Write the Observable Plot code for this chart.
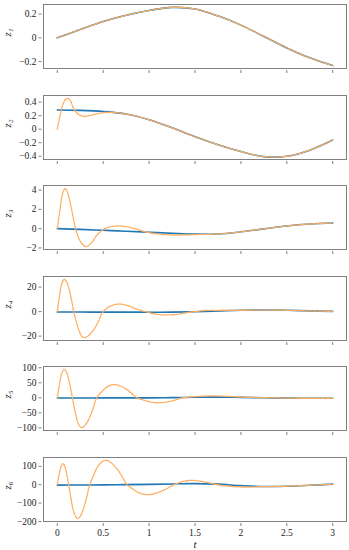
<!DOCTYPE html>
<html><head><meta charset="utf-8">
<script src="https://cdn.jsdelivr.net/npm/d3@7"></script>
<script src="https://cdn.jsdelivr.net/npm/@observablehq/plot@0.6"></script>
<style>
body{margin:0;background:#fff;}
#chart svg{display:block;}
#chart svg text{font-family:'Liberation Serif','DejaVu Serif',serif;}
</style></head><body><div id="chart"></div>
<script>
// time grid for the true states (blue)
const tTrue = [0, 0.25, 0.5, 0.75, 1.0, 1.25, 1.5, 1.75, 2.0, 2.25, 2.5, 2.75, 3.0];
const z1True = [0, 0.07, 0.137, 0.19, 0.23, 0.256, 0.243, 0.185, 0.107, 0.012, -0.085, -0.168, -0.233];
const z2True = [0.283, 0.278, 0.262, 0.225, 0.14, 0.02, -0.11, -0.23, -0.33, -0.405, -0.4, -0.31, -0.16];
const z3True = [0, -0.08, -0.17, -0.27, -0.37, -0.48, -0.57, -0.56, -0.33, -0.02, 0.28, 0.48, 0.58];
const z4True = [-0.3, -0.35, -0.4, -0.42, -0.45, -0.42, -0.1, 0.5, 1.1, 1.3, 1.1, 0.6, 0.2];
const z5True = [-0.5, -0.4, -0.3, -0.2, -0.1, 0.5, 1.8, 2.3, 1.5, 0, -1.0, -1.5, -1.3];
const z6True = [-2, -1.5, -1, 0.5, 2, 4, 6, 3, -5, -10, -8, -3, 3];

// observer estimates (orange, dashed)
const t1Obs = [0, 0.25, 0.5, 0.75, 1.0, 1.25, 1.5, 1.75, 2.0, 2.25, 2.5, 2.75, 3.0];
const z1Obs = [0, 0.07, 0.137, 0.19, 0.23, 0.256, 0.243, 0.185, 0.107, 0.012, -0.085, -0.168, -0.233];
const t2Obs = [0, 0.03, 0.06, 0.09, 0.115, 0.14, 0.17, 0.2, 0.24, 0.29, 0.35, 0.42, 0.5, 0.6, 0.75, 1.0, 1.25, 1.5, 1.75, 2.0, 2.25, 2.5, 2.75, 3.0];
const z2Obs = [0, 0.2, 0.36, 0.44, 0.455, 0.43, 0.33, 0.26, 0.21, 0.19, 0.2, 0.225, 0.245, 0.248, 0.225, 0.14, 0.02, -0.11, -0.23, -0.33, -0.405, -0.4, -0.31, -0.16];
const t3Obs = [0, 0.03, 0.06, 0.087, 0.12, 0.16, 0.2, 0.25, 0.31, 0.37, 0.43, 0.5, 0.58, 0.68, 0.78, 0.88, 0.97, 1.1, 1.25, 1.4, 1.55, 1.75, 2.0, 2.25, 2.5, 2.75, 3.0];
const z3Obs = [0, 2.0, 3.7, 4.17, 3.5, 1.8, 0.0, -1.3, -1.86, -1.5, -0.7, -0.1, 0.2, 0.28, 0.15, -0.1, -0.35, -0.55, -0.65, -0.65, -0.6, -0.56, -0.33, -0.02, 0.28, 0.48, 0.58];
const t4Obs = [0, 0.025, 0.05, 0.075, 0.1, 0.13, 0.155, 0.18, 0.22, 0.26, 0.29, 0.33, 0.4, 0.45, 0.5, 0.58, 0.67, 0.76, 0.86, 0.96, 1.07, 1.18, 1.3, 1.47, 1.6, 1.75, 2.0, 2.25, 2.5, 2.75, 3.0];
const z4Obs = [0, 13, 23, 26.3, 24.5, 18, 9.5, 0, -11.5, -19.3, -21.2, -20.2, -14.4, -7.7, 0, 4.5, 6.2, 5, 2.3, 0, -2.0, -2.7, -2.2, -0.2, 0.8, 1.1, 1.1, 1.3, 1.1, 0.6, 0.2];
const t5Obs = [0, 0.025, 0.05, 0.075, 0.1, 0.13, 0.165, 0.2, 0.23, 0.26, 0.29, 0.33, 0.38, 0.43, 0.49, 0.55, 0.61, 0.68, 0.76, 0.87, 0.95, 1.02, 1.1, 1.2, 1.28, 1.36, 1.45, 1.55, 1.69, 1.85, 2.0, 2.25, 2.5, 2.75, 3.0];
const z5Obs = [0, 47, 82, 94.5, 85.6, 54, 0, -54, -87, -99, -95, -79, -44, 0, 22, 38, 44, 40, 27, 0, -8.6, -14, -16.5, -13.6, -7.6, 0, 2.7, 5.2, 6.6, 5, 2.5, 0.5, -1, -1.5, -1.3];
const t6Obs = [0, 0.02, 0.04, 0.062, 0.08, 0.1, 0.124, 0.15, 0.18, 0.219, 0.25, 0.29, 0.32, 0.354, 0.4, 0.45, 0.518, 0.58, 0.65, 0.7, 0.76, 0.83, 0.9, 0.975, 1.05, 1.15, 1.27, 1.33, 1.4, 1.47, 1.55, 1.65, 1.74, 1.85, 1.95, 2.07, 2.2, 2.35, 2.5, 2.75, 3.0];
const z6Obs = [0, 56, 97, 114, 102, 65, 0, -77, -147, -184, -172, -123, -68, 0, 56, 105, 132, 122, 86, 50, 0, -26, -46, -54, -50, -32, 0, 11.5, 21, 24, 20, 10, 0, -7, -11, -13, -11, -10, -8, -3, 3];

const labels = ["z₁", "z₂", "z₃", "z₄", "z₅", "z₆"];
const trueSeries = [z1True, z2True, z3True, z4True, z5True, z6True];
const obsT = [t1Obs, t2Obs, t3Obs, t4Obs, t5Obs, t6Obs];
const obsSeries = [z1Obs, z2Obs, z3Obs, z4Obs, z5Obs, z6Obs];
const yTicks = [[-0.2, 0, 0.2], [-0.4, -0.2, 0, 0.2, 0.4], [-2, 0, 2, 4], [-20, 0, 20], [-100, -50, 0, 50, 100], [-200, -100, 0, 100]];
const xTicks = [0, 0.5, 1, 1.5, 2, 2.5, 3];
const xLabel = "t";

const heights = [90, 91, 90, 91, 90, 98];
const tops = [4, 5, 4, 5, 4, 5];
const chart = document.getElementById("chart");
const serif = "'Liberation Serif', 'DejaVu Serif', serif";
const fmt = d => (d < 0 ? "\u2212" : "") + String(Math.abs(d));

for (let i = 0; i < 6; i++) {
  const trueRows = tTrue.map((t, j) => ({t, z: trueSeries[i][j]}));
  const obsRows = obsT[i].map((t, j) => ({t, z: obsSeries[i][j]}));
  const all = trueRows.concat(obsRows).map(d => d.z);
  const [lo, hi] = d3.extent(all);
  const pad = (hi - lo) * 0.05;
  const last = i === 5;
  const marks = [
    Plot.frame({stroke: "#808080", strokeWidth: 1}),
    Plot.axisY({ticks: yTicks[i], tickFormat: fmt, tickSize: 3, dx: -1.5, tickPadding: 2.5, stroke: "#808080", label: null, fontSize: 9.5, fontFamily: serif}),
    Plot.axisX({ticks: xTicks, tickSize: 3, dy: 2, tickPadding: 3, stroke: "#808080", label: null, fontSize: 9.5, fontFamily: serif,
      tickFormat: last ? fmt : (() => "")}),
    Plot.line(trueRows, {x: "t", y: "z", stroke: "#1f77b4", strokeWidth: 1.6, curve: "catmull-rom"}),
    Plot.line(obsRows, {x: "t", y: "z", stroke: "#ffae60", strokeWidth: 1.3, strokeDasharray: "3,1.2", curve: "catmull-rom"}),
    Plot.text([labels[i]], {text: d => d, frameAnchor: "left", dx: -36, rotate: -90, fontStyle: "italic", fontSize: 11, fontFamily: serif, fill: "#222"})
  ];
  if (last) marks.push(Plot.text([xLabel], {text: d => d, frameAnchor: "bottom", dy: 23, lineAnchor: "middle", fontStyle: "italic", fontSize: 11, fontFamily: serif, fill: "#222"}));
  const svg = Plot.plot({
    width: 349,
    height: heights[i],
    marginTop: tops[i],
    marginBottom: heights[i] - tops[i] - 64,
    marginLeft: 43,
    marginRight: 3,
    style: {fontFamily: serif, fontSize: "9.5px", color: "#222", background: "#fff"},
    x: {domain: [-0.15, 3.15]},
    y: {domain: [lo - pad, hi + pad]},
    marks
  });
  chart.appendChild(svg);
}
</script></body></html>
